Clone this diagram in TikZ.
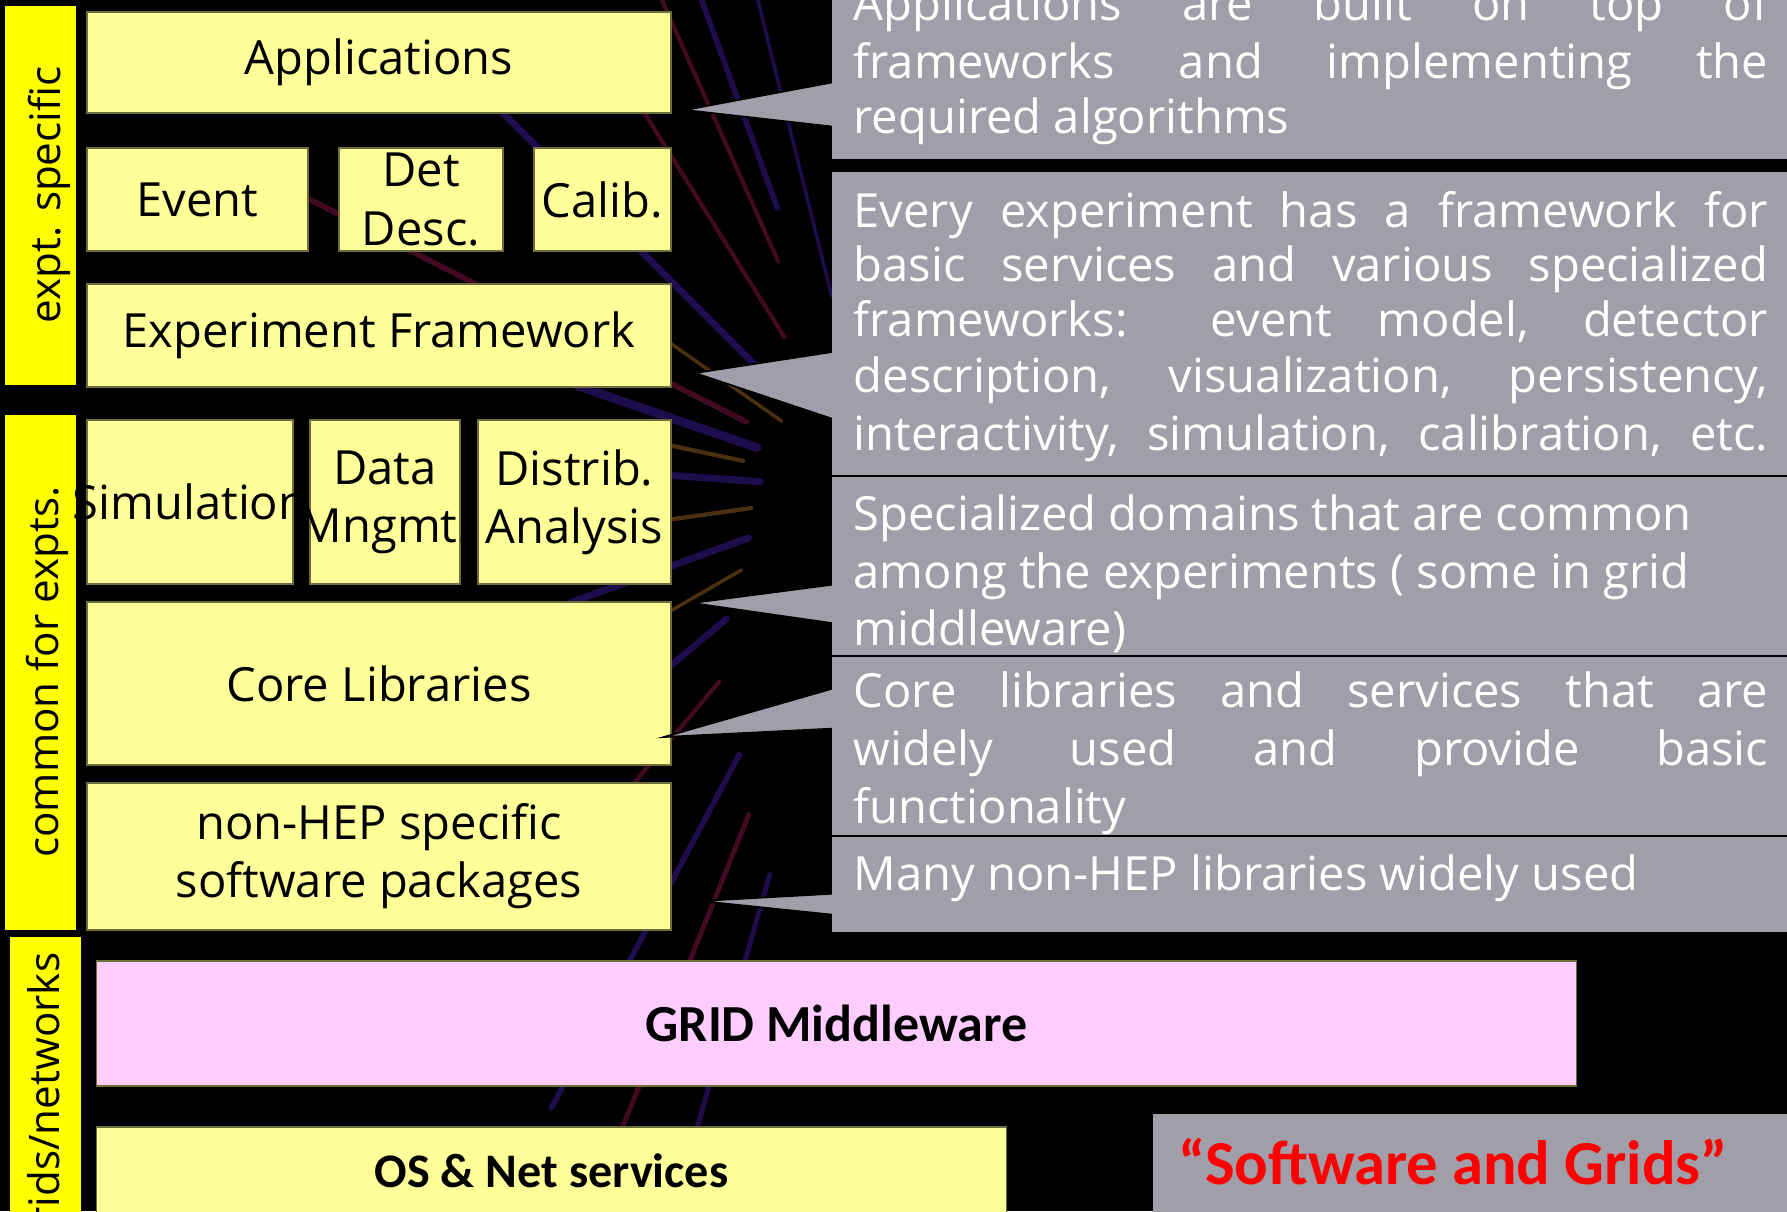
\documentclass[tikz,border=0pt]{standalone}
\usepackage{fontspec}
\newfontfamily\comicfont{Open Sans}
\newfontfamily\calfont{Carlito}
\definecolor{paleyellow}{RGB}{255,255,153}
\definecolor{baryellow}{RGB}{255,255,0}
\definecolor{gridpink}{RGB}{255,204,255}
\definecolor{notegray}{RGB}{160,158,168}
\definecolor{boxedge}{RGB}{110,110,60}
\definecolor{streakblue}{RGB}{55,25,140}
\definecolor{streakred}{RGB}{120,20,60}
\definecolor{streakorange}{RGB}{140,90,30}
\newcommand{\jline}[1]{\makebox[9.14cm][s]{#1}}
\newcommand{\ov}[1]{\makebox[0pt]{#1}}

\begin{document}
\begin{tikzpicture}[
  x=0.01cm, y=-0.01cm,
  blockbox/.style={draw=boxedge, line width=0.4pt, fill=paleyellow, inner sep=0pt, align=center, font=\comicfont\fontsize{13.4}{16.5}\selectfont},
  sidebar/.style={fill=baryellow, inner sep=0pt, minimum width=0.71cm},
  taglabel/.style={rotate=90, inner sep=0pt, font=\comicfont\fontsize{12}{14}\selectfont},
  noteline/.style={anchor=base west, inner sep=0pt, text=white, font=\comicfont\fontsize{13.4}{16}\selectfont},
  pointer/.style={fill=notegray, draw=black, line width=0.5pt},
  streak/.style={line width=#1, line cap=round, opacity=0.55}
]
  \useasboundingbox (0,0) rectangle (1787,1211);
  \clip (0,0) rectangle (1787,1211);
  \fill[black] (0,0) rectangle (1787,1211);

  % Background streaks
  \draw[streak=1.6pt, streakblue, shift={(880,490)}] (250:300) -- (250:700);
  \draw[streak=1.2pt, streakred, shift={(880,490)}] (246:250) -- (246:650);
  \draw[streak=1pt, streakblue, shift={(880,490)}] (256:200) -- (256:600);
  \draw[streak=1.2pt, streakred, shift={(880,490)}] (238:180) -- (238:560);
  \draw[streak=2pt, streakblue, shift={(880,490)}] (225:150) -- (225:600);
  \draw[streak=1pt, streakorange, shift={(880,490)}] (215:120) -- (215:350);
  \draw[streak=1.6pt, streakred, shift={(880,490)}] (207:150) -- (207:700);
  \draw[streak=2.5pt, streakblue, shift={(880,490)}] (199:130) -- (199:320);
  \draw[streak=1.2pt, streakorange, shift={(880,490)}] (192:140) -- (192:260);
  \draw[streak=2pt, streakblue, shift={(880,490)}] (184:120) -- (184:300);
  \draw[streak=1.2pt, streakorange, shift={(880,490)}] (172:130) -- (172:280);
  \draw[streak=2pt, streakblue, shift={(880,490)}] (160:140) -- (160:330);
  \draw[streak=1pt, streakorange, shift={(880,490)}] (150:160) -- (150:380);
  \draw[streak=1.8pt, streakblue, shift={(880,490)}] (140:200) -- (140:420);
  \draw[streak=1.2pt, streakred, shift={(880,490)}] (130:250) -- (130:450);
  \draw[streak=1.6pt, streakblue, shift={(880,490)}] (118:300) -- (118:700);
  \draw[streak=1.4pt, streakred, shift={(880,490)}] (112:350) -- (112:700);
  \draw[streak=1.4pt, streakblue, shift={(880,490)}] (106:400) -- (106:750);

  % Side bars
  \node[sidebar, minimum height=3.79cm] (exptbar) at (40.5,195.5) {};
  \node[taglabel] (exptlbl) at (49,195) {expt. specific};
  \node[sidebar, minimum height=5.15cm] (commonbar) at (40.5,672.5) {};
  \node[taglabel] (commonlbl) at (47,672) {common for expts.};
  \node[sidebar, minimum height=2.8cm] (gridsbar) at (45.5,1077) {};
  \node[taglabel, anchor=east] (gridslbl) at (49,952) {grids/networks};

  % Experiment specific layers
  \node[blockbox, minimum width=5.84cm, minimum height=1.01cm] (apps) at (379,62.5) {Applications};
  \node[blockbox, minimum width=2.21cm, minimum height=1.03cm] (event) at (197.5,199.5) {Event};
  \node[blockbox, minimum width=1.64cm, minimum height=1.03cm] (detdesc) at (421,199.5) {Det\\Desc.};
  \node[blockbox, minimum width=1.37cm, minimum height=1.03cm] (calib) at (602.5,199.5) {Calib.};
  \node[blockbox, minimum width=5.84cm, minimum height=1.03cm] (expfw) at (379,335.5) {Experiment Framework};

  % Common layers
  \node[blockbox, minimum width=2.06cm, minimum height=1.64cm] (sim) at (190,502) {\ov{Simulation}};
  \node[blockbox, minimum width=1.5cm, minimum height=1.64cm] (datam) at (385,502) {\ov{Data}\\\ov{Mngmt.}};
  \node[blockbox, minimum width=1.93cm, minimum height=1.64cm] (distrib) at (574.5,502) {Distrib.\\Analysis};
  \node[blockbox, minimum width=5.84cm, minimum height=1.63cm] (core) at (379,683.5) {Core Libraries};
  \node[blockbox, minimum width=5.84cm, minimum height=1.47cm] (nonhep) at (379,856.5) {non-HEP specific\\software packages};

  % Grid layers
  \node[blockbox, fill=gridpink, font=\calfont\bfseries\fontsize{14.8}{17}\selectfont, minimum width=14.79cm, minimum height=1.25cm] (grid) at (836.5,1023.5) {GRID Middleware};
  \node[blockbox, font=\calfont\bfseries\fontsize{13.7}{16}\selectfont, minimum width=9.09cm, minimum height=0.88cm] (osnet) at (551.5,1171) {OS \& Net services};

  % Pointers
  \coordinate (appstip) at (685,110);
  \coordinate (expfwtip) at (695,373);
  \coordinate (commontip) at (692,603);
  \coordinate (coretip) at (664,737);
  \coordinate (nonheptip) at (700,901);
  \path[pointer] (appstip) -- (845,80) -- (845,128) -- cycle;
  \path[pointer] (expfwtip) -- (845,350) -- (845,423) -- cycle;
  \path[pointer] (commontip) -- (845,583) -- (845,625) -- cycle;
  \path[pointer] (coretip) -- (845,685) -- (845,728) -- cycle;
  \path[pointer] (nonheptip) -- (845,893) -- (845,916) -- cycle;

  % Notes
  \fill[notegray] (832,-10) rectangle (1800,159);
  \fill[notegray] (832,172) rectangle (1800,932);
  \fill[notegray] (1153,1114) rectangle (1800,1220);
  \draw[black, line width=0.7pt] (832,476) -- (1800,476);
  \draw[black, line width=0.7pt] (832,656) -- (1800,656);
  \draw[black, line width=0.7pt] (832,836) -- (1800,836);

  \node[noteline] (n1a) at (853,20) {\jline{Applications are built on top of}};
  \node[noteline] (n1b) at (853,78) {\jline{frameworks and implementing the}};
  \node[noteline] (n1c) at (853,133) {required algorithms};

  \node[noteline] (n2a) at (853,227) {\jline{Every experiment has a framework for}};
  \node[noteline] (n2b) at (853,281) {\jline{basic services and various specialized}};
  \node[noteline] (n2c) at (853,336) {\jline{frameworks: event model, detector}};
  \node[noteline] (n2d) at (853,392) {\jline{description, visualization, persistency,}};
  \node[noteline] (n2e) at (853,450) {\makebox[9.14cm][l]{interactivity,\hfill simulation,\hfill calibration,\hfill etc.}};

  \node[noteline] (n3a) at (853,530) {Specialized domains that are common};
  \node[noteline] (n3b) at (853,588) {among the experiments ( some in grid};
  \node[noteline] (n3c) at (853,645) {middleware)};

  \node[noteline] (n4a) at (853,707) {\jline{Core libraries and services that are}};
  \node[noteline] (n4b) at (853,765) {\jline{widely used and provide basic}};
  \node[noteline] (n4c) at (853,823) {functionality};

  \node[noteline] (n5a) at (853,890) {Many non-HEP libraries widely used};

  % Title
  \node[inner sep=0pt, text=red, font=\calfont\bfseries\fontsize{17.8}{20}\selectfont] (title) at (1453,1162) {“Software and Grids”};
\end{tikzpicture}
\end{document}
